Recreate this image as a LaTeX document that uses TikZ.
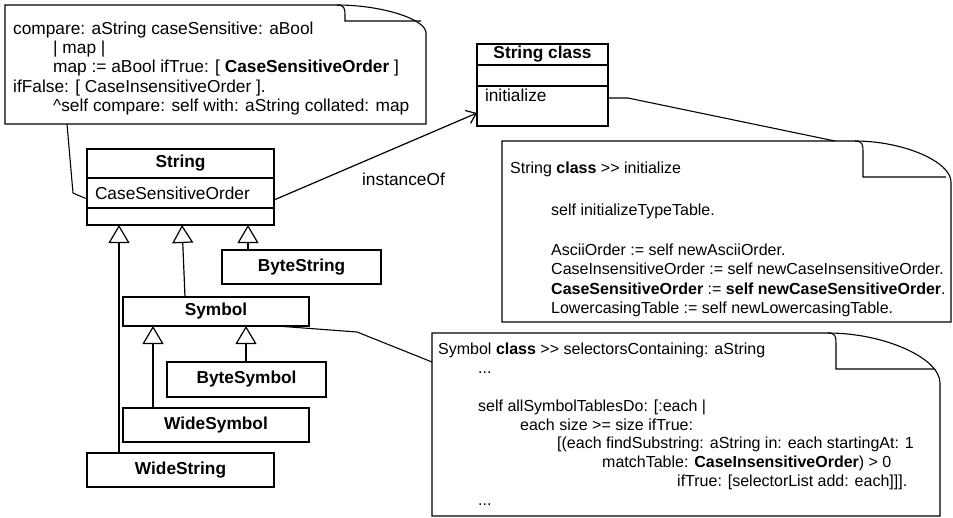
\documentclass[tikz,border=0pt]{standalone}
\usepackage{fontspec}
\setmainfont{Liberation Sans}
\usetikzlibrary{arrows.meta,calc}

\newcommand{\umlfont}{\fontsize{17.3}{19.3}\selectfont}
\newcommand{\notefont}{\fontsize{16}{18.8}\selectfont}
\newcommand{\gtgt}{>\kern0pt>}
% note outline with a folded corner: node, fold width, inner depth, outer depth
\newcommand{\notefold}[4]{%
  \draw[noteline] (#1.south west) -- (#1.north west) -- ($(#1.north east)+(-#2,0)$)
    .. controls ($(#1.north east)+(-#2/2,0)$) and ($(#1.north east)+(0,#4/2)$) .. ($(#1.north east)+(0,#4)$)
    -- (#1.south east) -- cycle;
  \draw[noteline] ($(#1.north east)+(-#2,0)$)
    .. controls ($(#1.north east)+(-#2+7,0)$) and ($(#1.north east)+(-#2+8,3)$) .. ($(#1.north east)+(-#2+8,10)$)
    -- ($(#1.north east)+(-#2+8,#3)$) -- ($(#1.north east)+(-5,#3)$);}

\tikzset{
  classbox/.style={draw, line width=1.2pt, inner sep=0pt, outer sep=0pt, font=\umlfont\bfseries},
  classpart/.style={draw, line width=1.2pt, inner xsep=8pt, inner ysep=0pt, outer sep=0pt, font=\umlfont},
  notebox/.style={inner sep=0pt, outer sep=0pt},
  noteline/.style={line width=1.1pt},
  code/.style={inner sep=0pt, align=left, font=\notefont},
  roletext/.style={inner sep=0pt, font=\umlfont},
  generalize/.style={line width=1.2pt, -{Triangle[open,length=18pt,width=21pt]}},
  assoc/.style={line width=1.2pt, -{Straight Barb[length=9pt,width=14pt]}},
}

\begin{document}
\begin{tikzpicture}[x=1pt, y=-1pt]
  \useasboundingbox (0,0) rectangle (953,517);

  % classes
  \node[classbox, minimum width=187pt, minimum height=29pt, anchor=north west] (string) at (87,149) {String};
  \node[classpart, text width=171pt, align=left, minimum height=30pt, anchor=north] (stringattr) at (string.south) {CaseSensitiveOrder};
  \node[classpart, minimum width=187pt, minimum height=17pt, anchor=north] (stringops) at (stringattr.south) {};

  \node[classbox, minimum width=131pt, minimum height=21pt, anchor=north west] (strclass) at (477,44) {String class};
  \node[classpart, minimum width=131pt, minimum height=21pt, anchor=north] (strclassattr) at (strclass.south) {};
  \node[classpart, text width=115pt, align=left, text height=14pt, text depth=24pt, minimum height=40pt, anchor=north] (strclassops) at (strclassattr.south) {initialize};

  \node[classbox, minimum width=159pt, minimum height=34pt] (bytestring) at (301.5,267) {ByteString};
  \node[classbox, minimum width=186pt, minimum height=29pt] (symbol) at (216,311.5) {Symbol};
  \node[classbox, minimum width=159pt, minimum height=35pt] (bytesymbol) at (246.5,379.5) {ByteSymbol};
  \node[classbox, minimum width=186pt, minimum height=34pt] (widesymbol) at (216,425) {WideSymbol};
  \node[classbox, minimum width=187pt, minimum height=34pt] (widestring) at (180.5,470) {WideString};

  % inheritance
  \draw[generalize] ([xshift=32pt]widestring.north west) -- ([xshift=32pt]stringops.south west);
  \draw[generalize] ([xshift=62pt]symbol.north west) -- ([xshift=95pt]stringops.south west);
  \draw[generalize] ([xshift=26pt]bytestring.north west) -- ([xshift=161pt]stringops.south west);
  \draw[generalize] ([xshift=30pt]widesymbol.north west) -- ([xshift=30pt]symbol.south west);
  \draw[generalize] ([xshift=79pt]bytesymbol.north west) -- ([xshift=123pt]symbol.south west);

  \draw[assoc] ([yshift=-7pt]stringattr.east) -- ([yshift=-7pt]strclassops.west);
  \node[roletext] (instanceof) at (403.5,179) {instanceOf};

  % notes
  \node[notebox, minimum width=421pt, minimum height=119pt, anchor=north west] (cmpnote) at (5,5) {};
  \notefold{cmpnote}{89}{16}{28}
  \node[code, font=\umlfont, anchor=north west] (cmpcode) at ([shift={(8,16.5)}]cmpnote.north west) {%
    compare: aString caseSensitive: aBool\\
    \hspace*{40pt}| map |\\
    \hspace*{40pt}map := aBool ifTrue: [ \textbf{CaseSensitiveOrder} ]\\
    ifFalse: [ CaseInsensitiveOrder ].\\
    \hspace*{40pt}\textasciicircum self compare: self with: aString collated: map};

  \node[notebox, minimum width=449pt, minimum height=181pt, anchor=north west] (initnote) at (502,141) {};
  \notefold{initnote}{96}{36}{41}
  \node[code, font=\fontsize{16}{19.4}\selectfont, anchor=north west] (initcode) at ([shift={(8,20.5)}]initnote.north west) {%
    String \textbf{class} \gtgt{} initialize\\[22.5pt]
    \hspace*{41pt}self initializeTypeTable.\\[21pt]
    \hspace*{41pt}AsciiOrder := self newAsciiOrder.\\
    \hspace*{41pt}CaseInsensitiveOrder := self newCaseInsensitiveOrder.\\
    \hspace*{41pt}\textbf{CaseSensitiveOrder} := \textbf{self newCaseSensitiveOrder}.\\
    \hspace*{41pt}LowercasingTable := self newLowercasingTable.};

  \node[notebox, minimum width=508pt, minimum height=183pt, anchor=north west] (selnote) at (432,333) {};
  \notefold{selnote}{112}{36}{50}
  \node[code, anchor=north west] (selcode) at ([shift={(6,10)}]selnote.north west) {%
    Symbol \textbf{class} \gtgt{} selectorsContaining: aString\\
    \hspace*{40pt}...\\[18.8pt]
    \hspace*{40pt}self allSymbolTablesDo: [:each |\\
    \hspace*{82pt}each size >= size ifTrue:\\
    \hspace*{119pt}[(each findSubstring: aString in: each startingAt: 1\\
    \hspace*{164pt}matchTable: \textbf{CaseInsensitiveOrder}) > 0\\
    \hspace*{239pt}ifTrue: [selectorList add: each]]].\\
    \hspace*{40pt}...};

  % note links
  \draw[noteline] ([xshift=62pt]cmpnote.south west) -- ++(6,69) -- ([yshift=-6pt]stringattr.west);
  \draw[noteline] ([yshift=8pt]strclassops.east) -- ++(20,0) -- ([xshift=-116pt]initnote.north east);
  \draw[noteline] ([xshift=-32pt]symbol.south east) -- ++(80,6) -- ([yshift=-29pt]selnote.north west);
\end{tikzpicture}
\end{document}
